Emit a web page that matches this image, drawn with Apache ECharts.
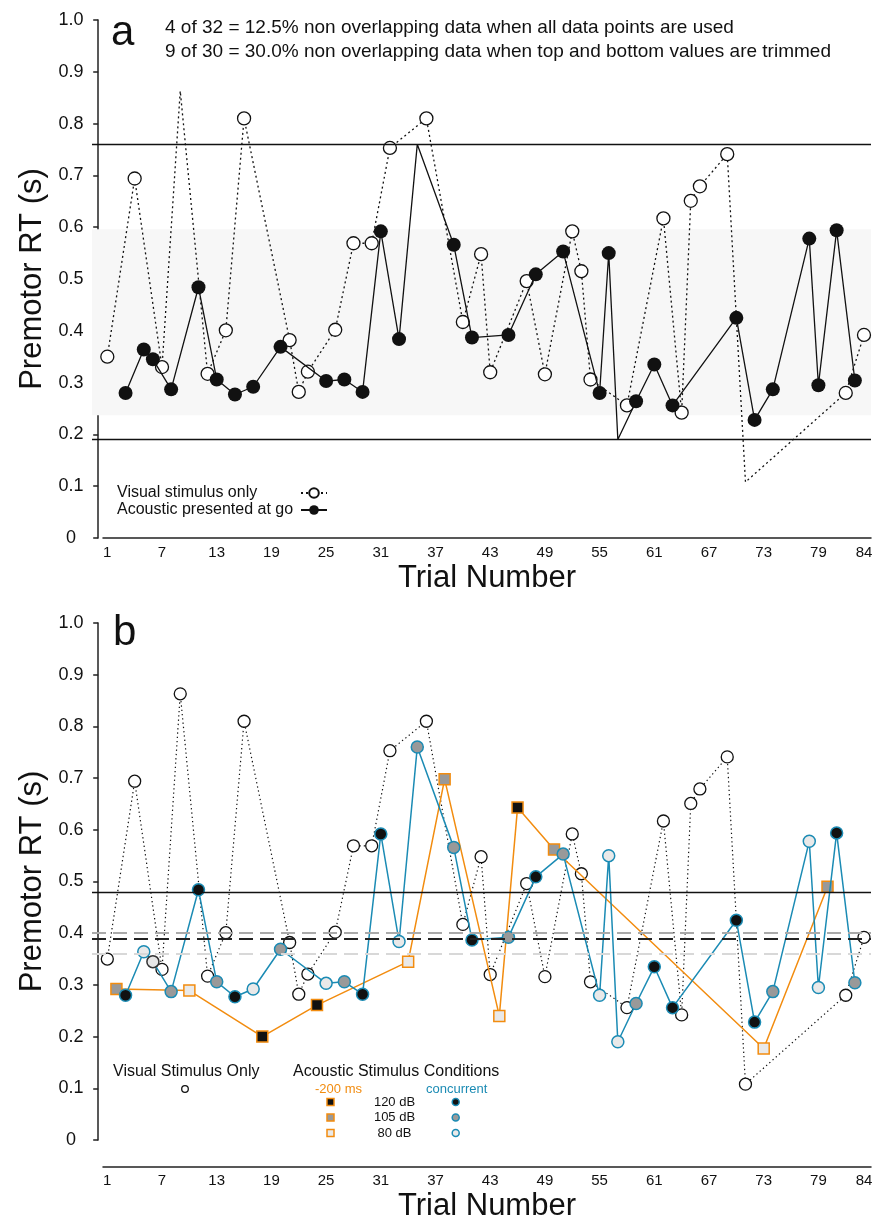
<!DOCTYPE html>
<html>
<head>
<meta charset="utf-8">
<script src="https://cdn.jsdelivr.net/npm/echarts@6/dist/echarts.min.js"></script>
<style>
  html, body { margin: 0; padding: 0; background: #fff; }
  #chart { width: 878px; height: 1221px; }
</style>
</head>
<body>
<div id="chart"></div>
<script>
const FONT = '"Liberation Sans", Arial, sans-serif';
const ORANGE = '#f28c0f';
const TEAL = '#1b8bb4';

// visual stimulus only
const visualTrial = [1, 4, 7, 9, 12, 14, 16, 21, 22, 23, 26, 28, 30, 32, 36, 40, 42, 43, 47, 49, 52, 53, 54, 58, 62, 64, 65, 66, 69, 71, 82, 84];
const visualRT = [0.350, 0.694, 0.330, 0.863, 0.317, 0.401, 0.810, 0.382, 0.282, 0.321, 0.402, 0.569, 0.569, 0.753, 0.810, 0.417, 0.548, 0.320, 0.496, 0.316, 0.592, 0.515, 0.306, 0.256, 0.617, 0.242, 0.651, 0.679, 0.741, 0.108, 0.280, 0.392];

// acoustic stimulus concurrent with go (null = level not marked)
const concTrial = [3, 5, 6, 8, 11, 13, 15, 17, 20, 25, 27, 29, 31, 33, 35, 39, 41, 45, 48, 51, 55, 56, 57, 59, 61, 63, 70, 72, 74, 78, 79, 81, 83];
const concRT = [0.280, 0.364, 0.345, 0.287, 0.484, 0.306, 0.277, 0.292, 0.369, 0.303, 0.306, 0.282, 0.592, 0.384, 0.760, 0.566, 0.387, 0.392, 0.509, 0.553, 0.280, 0.550, 0.190, 0.264, 0.335, 0.256, 0.425, 0.228, 0.287, 0.578, 0.295, 0.594, 0.304];
const concDb = [120, 80, null, 105, 120, 105, 120, 80, 105, 80, 105, 120, 120, 80, 105, 105, 120, 105, 120, 105, 80, 80, 80, 105, 120, 120, 120, 120, 105, 80, 80, 120, 105];

// acoustic stimulus 200 ms before go
const preTrial = [2, 10, 18, 24, 34, 38, 44, 46, 50, 73, 80];
const preRT = [0.292, 0.289, 0.200, 0.261, 0.345, 0.698, 0.240, 0.643, 0.562, 0.177, 0.490];
const preDb = [105, 80, 120, 120, 80, 105, 80, 120, 105, 80, 105];

const xTickLabels = [1, 7, 13, 19, 25, 31, 37, 43, 49, 55, 61, 67, 73, 79, 84];
const bandA = [0.237, 0.596];          // shaded range, panel a
const refSolidB = 0.48;                // panel b solid line
const refDashedB = [0.398, 0.388, 0.358];
const dbLevels = [120, 105, 80];

const dbFill = { 120: '#111111', 105: '#999999', 80: '#e9e9e9' };

// x range of the plotting area and of the offset x axis line
const XMIN = -0.68, XMAX = 84.77, XLINE_MIN = 0.53;

const chart = echarts.init(document.getElementById('chart'));

// top and bottom value of a series are drawn without marker (trimmed)
function trimmed(ts, vs) {
  const hi = Math.max(...vs), lo = Math.min(...vs);
  return ts.map((t, i) => ({
    value: [t, vs[i]],
    symbol: (vs[i] === hi || vs[i] === lo) ? 'none' : 'circle'
  }));
}

function byLevel(ts, vs, dbs, oddBorder) {
  return ts.map((t, i) => {
    const d = dbs[i];
    if (d == null) return { value: [t, vs[i]], itemStyle: { color: '#e6e6e6', borderColor: oddBorder } };
    return { value: [t, vs[i]], itemStyle: { color: dbFill[d] } };
  });
}

const yAxisBase = (gridIndex) => ({
  gridIndex,
  type: 'value',
  min: 0, max: 1, interval: 0.1,
  axisLine: { show: true, lineStyle: { color: '#222', width: 1.5 } },
  axisTick: { show: true, length: 5, lineStyle: { color: '#222', width: 1.5 } },
  axisLabel: {
    fontSize: 18, fontFamily: FONT, color: '#111', align: 'center', margin: 21,
    formatter: v => v === 0 ? '0' : v.toFixed(1)
  },
  splitLine: { show: false },
  name: 'Premotor RT (s)',
  nameLocation: 'middle',
  nameGap: 44,
  nameTextStyle: { fontSize: 31, fontFamily: FONT, color: '#111' }
});

const xAxisLine = (gridIndex) => ({
  gridIndex,
  type: 'value',
  min: XLINE_MIN, max: XMAX,
  axisLine: { show: true, lineStyle: { color: '#222', width: 1.5 } },
  axisTick: { show: false },
  axisLabel: { customValues: xTickLabels, fontSize: 15, fontFamily: FONT, color: '#111', margin: 7 },
  splitLine: { show: false },
  name: 'Trial Number',
  nameLocation: 'middle',
  nameGap: 25,
  nameTextStyle: { fontSize: 31, fontFamily: FONT, color: '#111' }
});

const hiddenX = (gridIndex) => ({ gridIndex, type: 'value', min: XMIN, max: XMAX, show: false });
const hiddenY = (gridIndex) => ({ gridIndex, type: 'value', min: 0, max: 1, show: false });

const legendBText = (text, x, y, size, color, align) => ({
  type: 'text', x, y,
  style: { text, fontSize: size, fontFamily: FONT, fill: color, align: align || 'left', verticalAlign: 'middle' }
});

const legendB = [
  legendBText('Visual Stimulus Only', 113, 1072, 16, '#111'),
  { type: 'circle', shape: { cx: 185, cy: 1089, r: 3.3 }, style: { fill: '#fff', stroke: '#111', lineWidth: 1.3 } },
  legendBText('Acoustic Stimulus Conditions', 293, 1072, 16, '#111'),
  legendBText('-200 ms', 315, 1089, 13, ORANGE),
  legendBText('concurrent', 426, 1089, 13, TEAL)
];
dbLevels.forEach((d, i) => {
  const y = 1102 + i * 15.5;
  legendB.push({ type: 'rect', shape: { x: 327, y: y - 3.5, width: 7, height: 7 }, style: { fill: dbFill[d], stroke: ORANGE, lineWidth: 1.5 } });
  legendB.push(legendBText(d + ' dB', 394.5, y, 13, '#111', 'center'));
  legendB.push({ type: 'circle', shape: { cx: 455.7, cy: y, r: 3.5 }, style: { fill: dbFill[d], stroke: TEAL, lineWidth: 1.5 } });
});

const option = {
  animation: false,
  backgroundColor: '#fff',
  textStyle: { fontFamily: FONT },
  grid: [
    { left: 92, right: 7, top: 20, height: 518 },
    { left: 103, right: 7, top: 537, height: 1 },
    { left: 92, right: 7, top: 623, height: 517 },
    { left: 103, right: 7, top: 1166, height: 1 }
  ],
  xAxis: [hiddenX(0), xAxisLine(1), hiddenX(2), xAxisLine(3)],
  yAxis: [yAxisBase(0), hiddenY(1), yAxisBase(2), hiddenY(3)],
  legend: {
    data: ['Visual stimulus only', 'Acoustic presented at go'],
    orient: 'vertical',
    left: 112, top: 480,
    align: 'right',
    itemGap: 1, itemWidth: 26, itemHeight: 12,
    selectedMode: false,
    formatter: name => '{t|' + name + '}',
    textStyle: {
      rich: { t: { width: 179, align: 'left', fontSize: 16, lineHeight: 16, fontFamily: FONT, color: '#111' } }
    }
  },
  graphic: [
    { type: 'text', x: 111, y: 33, style: { text: 'a', fontSize: 42, fontFamily: FONT, fill: '#111', verticalAlign: 'middle' } },
    { type: 'text', x: 113, y: 633, style: { text: 'b', fontSize: 42, fontFamily: FONT, fill: '#111', verticalAlign: 'middle' } },
    { type: 'text', x: 165, y: 28, style: { text: '4 of 32 = 12.5% non overlapping data when all data points are used', fontSize: 19, fontFamily: FONT, fill: '#111', verticalAlign: 'middle' } },
    { type: 'text', x: 165, y: 52, style: { text: '9 of 30 = 30.0% non overlapping data when top and bottom values are trimmed', fontSize: 19, fontFamily: FONT, fill: '#111', verticalAlign: 'middle' } },
    ...legendB
  ],
  series: [
    // panel a: shaded band and range lines
    {
      type: 'line', xAxisIndex: 0, yAxisIndex: 0, data: [], z: 1, silent: true,
      markArea: { silent: true, itemStyle: { color: '#f7f7f7' }, data: [[{ yAxis: bandA[0] }, { yAxis: bandA[1] }]] },
      markLine: {
        silent: true, symbol: 'none', label: { show: false },
        lineStyle: { color: '#111', type: 'solid', width: 1.3 },
        data: [{ yAxis: Math.max(...concRT) }, { yAxis: Math.min(...concRT) }]
      }
    },
    {
      name: 'Visual stimulus only',
      type: 'line', xAxisIndex: 0, yAxisIndex: 0, z: 3,
      data: trimmed(visualTrial, visualRT),
      symbol: 'circle', symbolSize: 13,
      itemStyle: { color: '#fff', borderColor: '#111', borderWidth: 1.3 },
      lineStyle: { color: '#111', width: 1.3, type: [2, 3] }
    },
    {
      name: 'Acoustic presented at go',
      type: 'line', xAxisIndex: 0, yAxisIndex: 0, z: 4,
      data: trimmed(concTrial, concRT),
      symbol: 'circle', symbolSize: 14,
      itemStyle: { color: '#111' },
      lineStyle: { color: '#111', width: 1.3 }
    },
    // panel b: reference lines
    {
      type: 'line', xAxisIndex: 2, yAxisIndex: 2, data: [], z: 1, silent: true,
      markLine: {
        silent: true, symbol: 'none', label: { show: false },
        data: [
          { yAxis: refSolidB, lineStyle: { color: '#111', type: 'solid', width: 1.3 } },
          { yAxis: refDashedB[0], lineStyle: { color: '#aaaaaa', type: [14, 7], width: 1.8 } },
          { yAxis: refDashedB[1], lineStyle: { color: '#222222', type: [14, 7], width: 1.8 } },
          { yAxis: refDashedB[2], lineStyle: { color: '#d8d8d8', type: [14, 7], width: 1.8 } }
        ]
      }
    },
    {
      name: 'Visual Stimulus Only',
      type: 'line', xAxisIndex: 2, yAxisIndex: 2, z: 2,
      data: visualTrial.map((t, i) => [t, visualRT[i]]),
      symbol: 'circle', symbolSize: 12,
      itemStyle: { color: '#fff', borderColor: '#111', borderWidth: 1.3 },
      lineStyle: { color: '#111', width: 1.2, type: [1.3, 3] }
    },
    {
      name: '-200 ms',
      type: 'line', xAxisIndex: 2, yAxisIndex: 2, z: 3,
      data: byLevel(preTrial, preRT, preDb, ORANGE),
      symbol: 'rect', symbolSize: 11,
      itemStyle: { borderColor: ORANGE, borderWidth: 1.5 },
      lineStyle: { color: ORANGE, width: 1.5 }
    },
    {
      name: 'concurrent',
      type: 'line', xAxisIndex: 2, yAxisIndex: 2, z: 4,
      data: byLevel(concTrial, concRT, concDb, '#333'),
      symbol: 'circle', symbolSize: 12,
      itemStyle: { borderColor: TEAL, borderWidth: 1.5 },
      lineStyle: { color: TEAL, width: 1.5 }
    }
  ]
};

chart.setOption(option);
</script>
</body>
</html>
